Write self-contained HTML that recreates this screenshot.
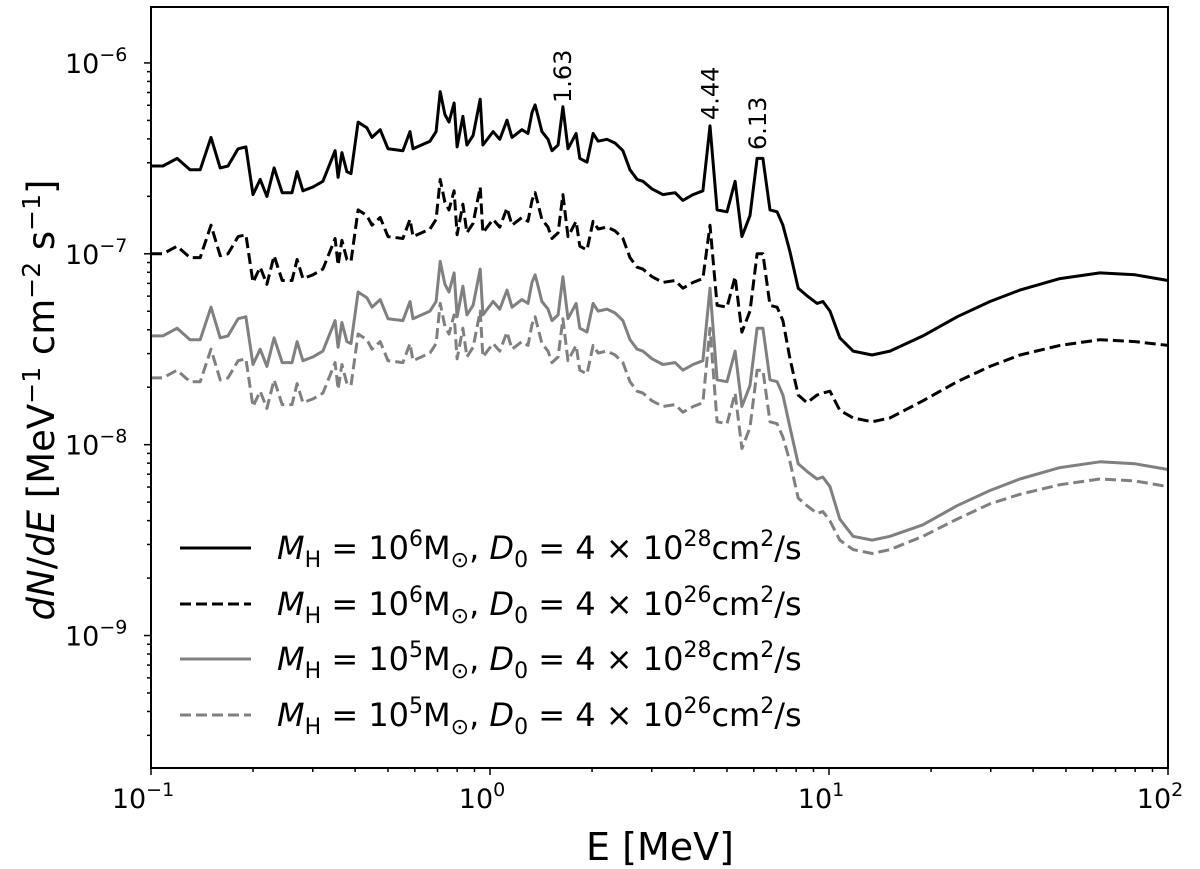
<!DOCTYPE html>
<html><head><meta charset="utf-8"><style>
html,body{margin:0;padding:0;background:#fff;}
svg{display:block;font-family:"DejaVu Sans","Liberation Sans",sans-serif;}
</style></head><body>
<svg id="chart" width="1200" height="869" viewBox="0 0 1200 869" xmlns="http://www.w3.org/2000/svg">
<g id="plot"></g>
<g id="axes"></g>
<text x="660" y="860" font-size="38" text-anchor="middle">E [MeV]</text>
<text transform="translate(54,400) rotate(-90)" font-size="37" text-anchor="middle"><tspan font-style="italic">dN</tspan>/<tspan font-style="italic">dE</tspan> [MeV<tspan dy="-14" font-size="25">−1</tspan><tspan dy="14"> cm</tspan><tspan dy="-14" font-size="25">−2</tspan><tspan dy="14"> s</tspan><tspan dy="-14" font-size="25">−1</tspan><tspan dy="14">]</tspan></text>
<g id="annotations"></g>
<g id="legend"></g>
</svg>
<script>
// log10(E / MeV) sample grid shared by all series
const logE = [-1.00,-0.965,-0.923,-0.885,-0.855,-0.823,-0.796,-0.773,-0.743,-0.720,-0.699,-0.678,-0.658,-0.637,-0.613,-0.584,-0.569,-0.552,-0.522,-0.493,-0.457,-0.448,-0.437,-0.422,-0.410,-0.389,-0.363,-0.348,-0.324,-0.301,-0.257,-0.236,-0.227,-0.177,-0.159,-0.147,-0.133,-0.121,-0.106,-0.097,-0.080,-0.068,-0.050,-0.029,-0.021,0.009,0.029,0.050,0.065,0.094,0.112,0.124,0.133,0.142,0.153,0.171,0.183,0.201,0.215,0.230,0.254,0.265,0.286,0.304,0.319,0.345,0.369,0.392,0.413,0.434,0.451,0.478,0.510,0.546,0.569,0.599,0.628,0.649,0.670,0.699,0.723,0.743,0.767,0.788,0.805,0.826,0.847,0.864,0.885,0.909,0.935,0.965,0.982,1.003,1.032,1.071,1.127,1.180,1.277,1.378,1.475,1.563,1.681,1.799,1.903,2.000];
// log10(dN/dE) per series
const fluxM6D28 = [-6.54,-6.54,-6.50,-6.56,-6.56,-6.39,-6.55,-6.54,-6.45,-6.44,-6.69,-6.61,-6.70,-6.55,-6.68,-6.68,-6.57,-6.67,-6.65,-6.62,-6.46,-6.60,-6.47,-6.57,-6.58,-6.31,-6.34,-6.39,-6.35,-6.45,-6.46,-6.36,-6.45,-6.41,-6.36,-6.15,-6.27,-6.31,-6.21,-6.44,-6.28,-6.43,-6.38,-6.19,-6.43,-6.36,-6.40,-6.30,-6.39,-6.35,-6.37,-6.26,-6.22,-6.28,-6.36,-6.40,-6.46,-6.43,-6.23,-6.45,-6.37,-6.50,-6.52,-6.37,-6.41,-6.40,-6.42,-6.46,-6.56,-6.61,-6.62,-6.66,-6.69,-6.68,-6.72,-6.69,-6.67,-6.33,-6.77,-6.78,-6.62,-6.91,-6.80,-6.50,-6.50,-6.77,-6.78,-6.85,-6.99,-7.18,-7.22,-7.26,-7.25,-7.30,-7.44,-7.51,-7.53,-7.51,-7.43,-7.33,-7.25,-7.19,-7.13,-7.10,-7.11,-7.14];
const fluxM6D26 = [-7.00,-7.00,-6.96,-7.02,-7.02,-6.85,-7.01,-7.00,-6.91,-6.90,-7.15,-7.07,-7.16,-7.01,-7.14,-7.14,-7.03,-7.13,-7.11,-7.08,-6.92,-7.06,-6.93,-7.03,-7.04,-6.77,-6.80,-6.85,-6.81,-6.91,-6.92,-6.82,-6.91,-6.87,-6.82,-6.61,-6.73,-6.77,-6.67,-6.90,-6.74,-6.89,-6.84,-6.65,-6.89,-6.82,-6.86,-6.76,-6.85,-6.81,-6.83,-6.72,-6.68,-6.74,-6.82,-6.86,-6.92,-6.89,-6.69,-6.91,-6.83,-6.96,-6.98,-6.83,-6.87,-6.86,-6.88,-6.92,-7.02,-7.07,-7.08,-7.12,-7.15,-7.14,-7.18,-7.15,-7.13,-6.85,-7.27,-7.28,-7.12,-7.41,-7.30,-7.00,-7.00,-7.27,-7.28,-7.35,-7.55,-7.74,-7.78,-7.74,-7.73,-7.72,-7.82,-7.86,-7.88,-7.86,-7.77,-7.67,-7.59,-7.53,-7.48,-7.45,-7.46,-7.48];
const fluxM5D28 = [-7.43,-7.43,-7.39,-7.45,-7.45,-7.28,-7.44,-7.43,-7.34,-7.33,-7.58,-7.50,-7.59,-7.44,-7.57,-7.57,-7.46,-7.56,-7.54,-7.51,-7.35,-7.49,-7.36,-7.46,-7.47,-7.20,-7.23,-7.28,-7.24,-7.34,-7.35,-7.25,-7.34,-7.30,-7.25,-7.04,-7.16,-7.20,-7.10,-7.33,-7.17,-7.32,-7.27,-7.08,-7.32,-7.25,-7.29,-7.19,-7.28,-7.24,-7.26,-7.15,-7.11,-7.17,-7.25,-7.29,-7.35,-7.32,-7.12,-7.34,-7.26,-7.39,-7.41,-7.26,-7.30,-7.29,-7.31,-7.35,-7.45,-7.50,-7.51,-7.55,-7.58,-7.57,-7.61,-7.58,-7.56,-7.18,-7.66,-7.67,-7.51,-7.80,-7.69,-7.39,-7.39,-7.66,-7.67,-7.74,-7.91,-8.10,-8.14,-8.18,-8.17,-8.22,-8.39,-8.48,-8.50,-8.48,-8.42,-8.32,-8.24,-8.18,-8.12,-8.09,-8.10,-8.13];
const fluxM5D26 = [-7.65,-7.65,-7.61,-7.67,-7.67,-7.50,-7.66,-7.65,-7.56,-7.55,-7.80,-7.72,-7.81,-7.66,-7.79,-7.79,-7.68,-7.78,-7.76,-7.73,-7.57,-7.71,-7.58,-7.68,-7.69,-7.42,-7.45,-7.50,-7.46,-7.56,-7.57,-7.47,-7.56,-7.52,-7.47,-7.26,-7.38,-7.42,-7.32,-7.55,-7.39,-7.54,-7.49,-7.30,-7.54,-7.47,-7.51,-7.41,-7.50,-7.46,-7.48,-7.37,-7.33,-7.39,-7.47,-7.51,-7.57,-7.54,-7.34,-7.56,-7.48,-7.61,-7.63,-7.48,-7.52,-7.51,-7.53,-7.57,-7.67,-7.72,-7.73,-7.77,-7.80,-7.79,-7.83,-7.80,-7.78,-7.39,-7.88,-7.89,-7.73,-8.02,-7.91,-7.61,-7.61,-7.88,-7.89,-7.96,-8.09,-8.28,-8.32,-8.36,-8.35,-8.40,-8.50,-8.55,-8.57,-8.55,-8.48,-8.39,-8.31,-8.26,-8.21,-8.18,-8.19,-8.22];
const xTickExp = [-1,0,1,2];
const yTickExp = [-6,-7,-8,-9];
const lineLabels = ["1.63","4.44","6.13"];
const lineEnergies = [1.63,4.44,6.13];
const legendLabels = [["6","28"],["6","26"],["5","28"],["5","26"]];

const L=151,R=1168,T=7,B=768;
const xMin=-1,xMax=2,yMin=-9.694,yMax=-5.707;
const sx=v=>L+(v-xMin)/(xMax-xMin)*(R-L);
const sy=v=>B-(v-yMin)/(yMax-yMin)*(B-T);
const NS="http://www.w3.org/2000/svg";
function mk(tag,parent){const e=document.createElementNS(NS,tag);parent.appendChild(e);return e;}

const plot=document.getElementById('plot');
const seriesDefs=[
 {d:fluxM6D28,c:"#000",dash:null,n:"series-m6-d28"},
 {d:fluxM6D26,c:"#000",dash:"11,5",n:"series-m6-d26"},
 {d:fluxM5D28,c:"#808080",dash:null,n:"series-m5-d28"},
 {d:fluxM5D26,c:"#808080",dash:"11,5",n:"series-m5-d26"}];
seriesDefs.slice().reverse().forEach(s=>{
  const p=mk('path',plot);
  
  
  p.setAttribute('d', logE.map((x,i)=>(i?'L':'M')+sx(x).toFixed(1)+' '+sy(s.d[i]).toFixed(1)).join(' '));
  p.setAttribute('fill','none');p.setAttribute('stroke',s.c);p.setAttribute('stroke-width','3');
  p.setAttribute('stroke-linejoin','round');
  if(s.dash)p.setAttribute('stroke-dasharray',s.dash);
});

const axes=document.getElementById('axes');
const fr=mk('rect',axes);


fr.setAttribute('x',L);fr.setAttribute('y',T);fr.setAttribute('width',R-L);fr.setAttribute('height',B-T);
fr.setAttribute('fill','none');fr.setAttribute('stroke','#000');fr.setAttribute('stroke-width','2');
function tick(x1,y1,x2,y2){const l=mk('line',axes);l.setAttribute('x1',x1);l.setAttribute('y1',y1);l.setAttribute('x2',x2);l.setAttribute('y2',y2);l.setAttribute('stroke','#000');l.setAttribute('stroke-width','1.5');return l;}
xTickExp.forEach(e=>{
  const x=sx(e);
  const t=tick(x,B,x,B+7);
  
  
  const tx=mk('text',axes);
  
  
  tx.setAttribute('x',x-8);tx.setAttribute('y',B+40);tx.setAttribute('font-size','27');tx.setAttribute('text-anchor','middle');
  tx.innerHTML='10<tspan dy="-12" font-size="19">'+(e<0?'−'+(-e):e)+'</tspan>';
  if(e<2)for(let k=2;k<10;k++){const mx=sx(e+Math.log10(k));const m=tick(mx,B,mx,B+4);
    
    }
});
yTickExp.forEach(e=>{
  const y=sy(e);
  const t=tick(L-7,y,L,y);
  
  
  const tx=mk('text',axes);
  
  
  tx.setAttribute('x',L-86);tx.setAttribute('y',y+10);tx.setAttribute('font-size','27');
  tx.innerHTML='10<tspan dy="-12" font-size="19">−'+(-e)+'</tspan>';
});
for(let e=-10;e<=-6;e++)for(let k=2;k<10;k++){const v=e+Math.log10(k);if(v<yMin||v>yMax)continue;const y=sy(v);
  const m=tick(L-4,y,L,y);
  
  }

const ann=document.getElementById('annotations');
const annY=[103,120,150];
lineLabels.forEach((s,i)=>{
  const t=mk('text',ann);
  
  
  const x=sx(Math.log10(lineEnergies[i]))+9;
  t.setAttribute('transform','translate('+x+','+annY[i]+') rotate(-90)');
  t.setAttribute('font-size','24');
  t.textContent=s;
});

const leg=document.getElementById('legend');
const legY=[548,604,659,715];
seriesDefs.forEach((s,i)=>{
  const l=mk('line',leg);
  
  
  l.setAttribute('x1',180);l.setAttribute('x2',251);l.setAttribute('y1',legY[i]);l.setAttribute('y2',legY[i]);
  l.setAttribute('stroke',s.c);l.setAttribute('stroke-width','3');
  if(s.dash)l.setAttribute('stroke-dasharray',s.dash);
  const t=mk('text',leg);
  
  
  t.setAttribute('x',277);t.setAttribute('y',legY[i]+11);t.setAttribute('font-size','32');
  const a=legendLabels[i];
  t.innerHTML='<tspan font-style="italic">M</tspan><tspan dy="8" font-size="22">H</tspan><tspan dy="-8"> = 10</tspan><tspan dy="-13" font-size="22">'+a[0]+'</tspan><tspan dy="13">M</tspan><tspan dy="8" font-size="22">⊙</tspan><tspan dy="-8">, </tspan><tspan font-style="italic">D</tspan><tspan dy="8" font-size="22">0</tspan><tspan dy="-8"> = 4 × 10</tspan><tspan dy="-13" font-size="22">'+a[1]+'</tspan><tspan dy="13">cm</tspan><tspan dy="-13" font-size="22">2</tspan><tspan dy="13">/s</tspan>';
});
</script>
</body></html>
